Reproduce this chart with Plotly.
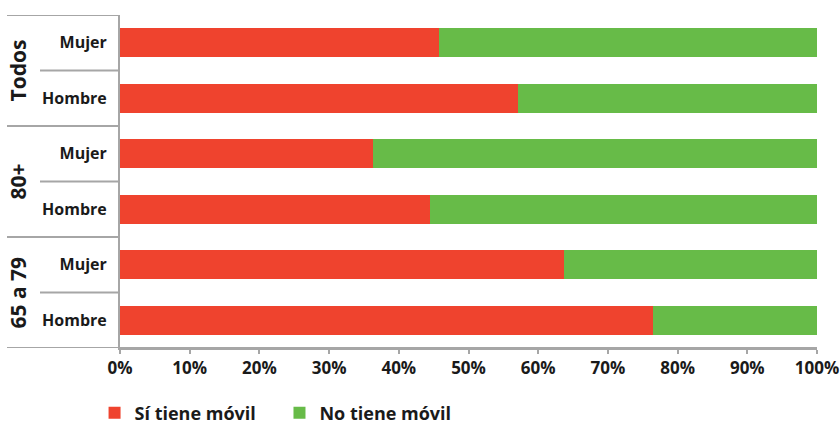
import plotly.graph_objects as go

groups = ["65 a 79", "65 a 79", "80+", "80+", "Todos", "Todos"]
sexes = ["Hombre", "Mujer", "Hombre", "Mujer", "Hombre", "Mujer"]
si_tiene = [76.5, 63.7, 44.5, 36.3, 57.1, 45.8]
no_tiene = [100 - v for v in si_tiene]
x_ticks = list(range(0, 101, 10))
x_ticklabels = [f"{t}%" for t in x_ticks]
series_names = ["Sí tiene móvil", "No tiene móvil"]

RED = "#EF432E"
GREEN = "#67BB48"
GRID = "#A6A6A6"
FONT = "Open Sans"
TXT = "#1a1a1a"

keys = [f"{g}|{s}" for g, s in zip(groups, sexes)]

fig = go.Figure()
fig.add_trace(go.Bar(y=keys, x=si_tiene, orientation="h",
                     name=series_names[0] + "\u00a0" * 4,
                     marker=dict(color=RED, line=dict(width=0))))
fig.add_trace(go.Bar(y=keys, x=no_tiene, orientation="h", name=series_names[1],
                     marker=dict(color=GREEN, line=dict(width=0))))

fig.update_layout(
    barmode="stack",
    bargap=0.48,
    width=840, height=424,
    margin=dict(l=120, r=23, t=15, b=76, autoexpand=False),
    plot_bgcolor="white", paper_bgcolor="white",
    font=dict(family=FONT, size=15, color=TXT),
    showlegend=True,
    legend=dict(orientation="h", x=-0.0365, xanchor="left", y=-0.195, yanchor="middle",
                font=dict(family=FONT, size=18, color=TXT, weight="bold"),
                itemwidth=30, traceorder="normal"),
)

fig.update_xaxes(range=[0, 100], tickvals=x_ticks, ticktext=x_ticklabels, automargin=False,
                 showgrid=False, zeroline=False, showline=True, linecolor=GRID, linewidth=2,
                 ticks="outside", ticklen=4, tickcolor=GRID, tickwidth=1.5,
                 tickfont=dict(family=FONT, size=17, weight="bold", color=TXT))
fig.update_yaxes(type="category", categoryorder="array", categoryarray=keys, automargin=False,
                 tickvals=keys, ticktext=sexes, range=[-0.5, 5.5],
                 showgrid=False, zeroline=False, showline=True, linecolor=GRID, linewidth=2,
                 ticks="", ticklabelstandoff=8,
                 tickfont=dict(family=FONT, size=16, weight="bold", color=TXT))

# divider lines of the hierarchical category axis
x_outer = -113 / 697
x_inner = -80 / 697
for yb in [-0.5, 1.5, 3.5, 5.5]:
    x1 = 1 if yb == -0.5 else 0
    fig.add_shape(type="line", xref="paper", yref="y", x0=x_outer, x1=x1, y0=yb, y1=yb,
                  line=dict(color=GRID, width=2), layer="below")
for yb in [0.5, 2.5, 4.5]:
    fig.add_shape(type="line", xref="paper", yref="y", x0=x_inner, x1=0, y0=yb, y1=yb,
                  line=dict(color=GRID, width=2), layer="below")

# group labels
for name, yc in [("65 a 79", 0.5), ("80+", 2.5), ("Todos", 4.5)]:
    fig.add_annotation(text=name, xref="paper", yref="y", x=-103 / 697, y=yc,
                       textangle=-90, showarrow=False, xanchor="center", yanchor="middle",
                       font=dict(family=FONT, size=21, weight="bold", color=TXT))

fig.write_html("out.html", post_script="document.body.style.margin='0px';",
               config={"displayModeBar": False})
